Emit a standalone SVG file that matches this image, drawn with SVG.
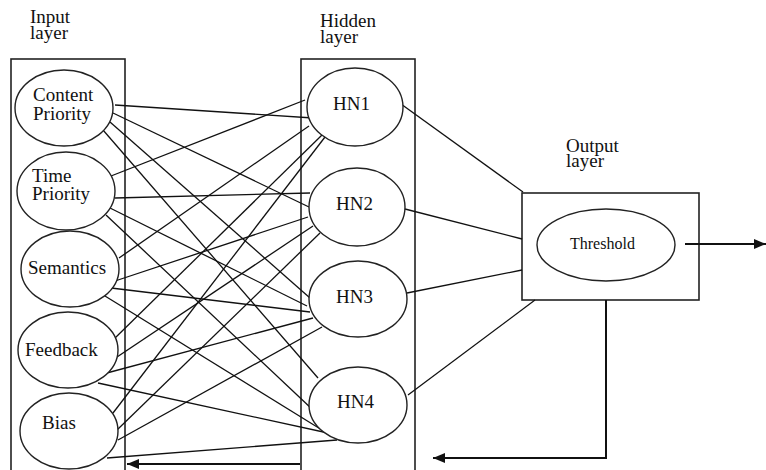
<svg xmlns="http://www.w3.org/2000/svg" width="766" height="470" viewBox="0 0 766 470">
<defs>
<style>
.box{fill:none;stroke:#222;stroke-width:1.6}
.node{fill:#fff;stroke:#222;stroke-width:1.4}
.lbl{font-family:"Liberation Serif","Times New Roman",serif;font-size:19px;fill:#111}
.sm{font-size:16px}
.c line{stroke:#111;stroke-width:1.3}
.fb{fill:none;stroke:#111;stroke-width:2}
</style>
<marker id="ah" viewBox="0 0 12 10" refX="12" refY="5" markerWidth="12" markerHeight="10" markerUnits="userSpaceOnUse" orient="auto">
<path d="M0,0 L12,5 L0,10 Z" fill="#111"/>
</marker>
</defs>
<rect width="766" height="470" fill="#fff"/>
<g id="layer-labels">
<text class="lbl" x="30" y="23">Input</text>
<text class="lbl" x="30" y="39">layer</text>
<text class="lbl" x="320" y="27">Hidden</text>
<text class="lbl" x="320" y="43">layer</text>
<text class="lbl" x="566" y="152">Output</text>
<text class="lbl" x="566" y="167">layer</text>
</g>
<g id="input-layer"><rect class="box" x="11" y="59" width="114" height="420"/></g>
<g id="hidden-layer"><rect class="box" x="301" y="59" width="114" height="420"/></g>
<g id="output-layer"><rect class="box" x="522" y="193" width="177" height="107"/></g>
<g id="connectors" class="c">
<line x1="115" y1="105" x2="313" y2="118"/>
<line x1="113" y1="113" x2="309" y2="207"/>
<line x1="110" y1="122" x2="310" y2="298"/>
<line x1="103" y1="130" x2="318" y2="378"/>
<line x1="111" y1="176" x2="305" y2="100"/>
<line x1="115" y1="198" x2="310" y2="193"/>
<line x1="110" y1="208" x2="307" y2="306"/>
<line x1="106" y1="215" x2="313" y2="410"/>
<line x1="119" y1="258" x2="309" y2="126"/>
<line x1="115" y1="281" x2="308" y2="217"/>
<line x1="111" y1="288" x2="310" y2="312"/>
<line x1="105" y1="296" x2="322" y2="430"/>
<line x1="113" y1="340" x2="322" y2="135"/>
<line x1="117" y1="357" x2="313" y2="226"/>
<line x1="103" y1="374" x2="313" y2="318"/>
<line x1="98" y1="383" x2="328" y2="433"/>
<line x1="113" y1="413" x2="325" y2="137"/>
<line x1="117" y1="430" x2="320" y2="233"/>
<line x1="118" y1="440" x2="322" y2="327"/>
<line x1="107" y1="458" x2="337" y2="440"/>
<line x1="401" y1="104" x2="523" y2="192"/>
<line x1="405" y1="209" x2="522" y2="239"/>
<line x1="407" y1="293" x2="522" y2="270"/>
<line x1="408" y1="395" x2="535" y2="300"/>
<path class="fb" d="M685,244 H766" marker-end="url(#ah)"/>
<path class="fb" d="M606,300 V458 H433" marker-end="url(#ah)"/>
<path class="fb" d="M300,464 H127" marker-end="url(#ah)"/>
</g>
<g id="content-priority"><ellipse class="node" cx="64" cy="108" rx="49" ry="38"/><text class="lbl" x="33" y="101">Content</text><text class="lbl" x="33" y="120">Priority</text></g>
<g id="time-priority"><ellipse class="node" cx="66" cy="191" rx="49" ry="39"/><text class="lbl" x="32" y="182">Time</text><text class="lbl" x="32" y="200">Priority</text></g>
<g id="semantics"><ellipse class="node" cx="70" cy="269" rx="49" ry="38"/><text class="lbl" x="28" y="274">Semantics</text></g>
<g id="feedback"><ellipse class="node" cx="68" cy="350" rx="50" ry="38"/><text class="lbl" x="25" y="356">Feedback</text></g>
<g id="bias"><ellipse class="node" cx="69" cy="431" rx="49" ry="38"/><text class="lbl" x="42" y="429">Bias</text></g>
<g id="hn1"><ellipse class="node" cx="355" cy="107" rx="48" ry="39"/><text class="lbl" x="333" y="110">HN1</text></g>
<g id="hn2"><ellipse class="node" cx="357" cy="207" rx="48" ry="39"/><text class="lbl" x="336" y="210">HN2</text></g>
<g id="hn3"><ellipse class="node" cx="358" cy="299" rx="49" ry="38"/><text class="lbl" x="336" y="303">HN3</text></g>
<g id="hn4"><ellipse class="node" cx="358" cy="405" rx="49" ry="38"/><text class="lbl" x="337" y="408">HN4</text></g>
<g id="threshold"><ellipse class="node" cx="606" cy="245" rx="69" ry="36"/><text class="lbl sm" x="570" y="249">Threshold</text></g>
</svg>
